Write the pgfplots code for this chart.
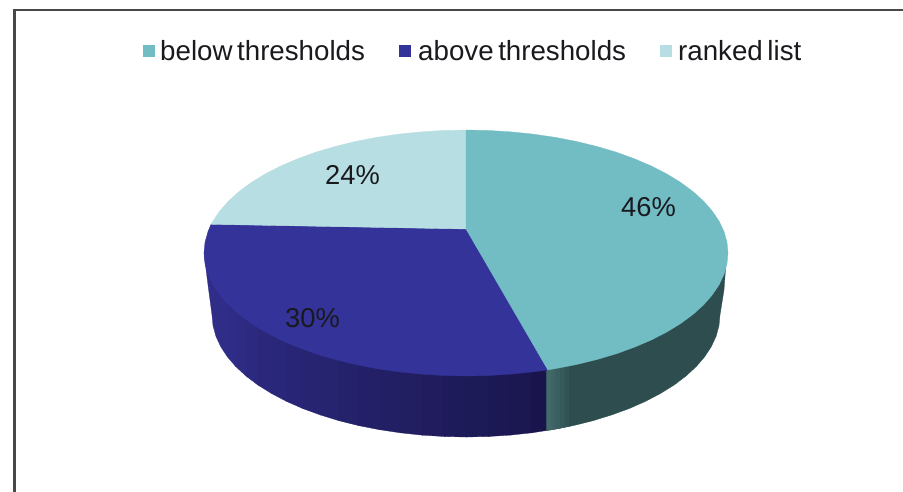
\documentclass[border=0pt]{standalone}
\usepackage{pgfplots}
\pgfplotsset{compat=1.18}
\usepackage{fontspec}
\setmainfont{Liberation Sans}[WordSpace=0.6]
\definecolor{teal1}{RGB}{114,188,196}
\definecolor{teal2}{RGB}{46,77,79}
\definecolor{navy1}{RGB}{51,51,153}
\definecolor{light1}{RGB}{183,222,226}
\definecolor{frame1}{RGB}{72,72,72}
\definecolor{textc}{RGB}{25,25,30}
\newcommand{\face}[2]{\addplot[fill=#1,draw=#1,line width=0.3pt] coordinates {#2} -- cycle;}
\newcommand{\rgbface}[4]{\addplot[fill={rgb,255:red,#1;green,#2;blue,#3},draw={rgb,255:red,#1;green,#2;blue,#3},line width=0.3pt] coordinates {#4} -- cycle;}
\newcommand{\lab}[4]{\node[anchor=base west,inner sep=0pt,text=textc,font=\fontsize{#1}{#1}\selectfont] at (axis cs:#2,#3) {#4};}
\begin{document}
\begin{tikzpicture}
\begin{axis}[
  width=903pt,height=491pt,scale only axis,
  xmin=0,xmax=903,ymin=0,ymax=491,y dir=reverse,
  axis lines=none,ticks=none,clip=true]
% page background
\addplot[fill=white,draw=none] coordinates {(0,0)(903,0)(903,491)(0,491)} -- cycle;
% frame
\addplot[frame1,line width=2.4pt] coordinates {(14.5,495)(14.5,10)(905,10)};
% side: above thresholds, strips from left to right
\rgbface{47}{45}{136}{(204,253)(208,285)(212,315)(213,325.6)(215.9,336.2)(220.7,346.6)(227.3,356.7)(228.3,356.7)(228.3,250)}
\rgbface{46}{44}{134}{(227.3,250)(227.3,356.7)(235.8,366.6)(236.8,366.6)(236.8,250)}
\rgbface{45}{43}{131}{(235.8,250)(235.8,366.6)(246,376)(247,376)(247,250)}
\rgbface{44}{41}{128}{(246,250)(246,376)(257.9,385)(258.9,385)(258.9,250)}
\rgbface{43}{40}{124}{(257.9,250)(257.9,385)(271.4,393.4)(272.4,393.4)(272.4,250)}
\rgbface{41}{39}{121}{(271.4,250)(271.4,393.4)(286.4,401.3)(287.4,401.3)(287.4,250)}
\rgbface{40}{37}{118}{(286.4,250)(286.4,401.3)(302.7,408.5)(303.7,408.5)(303.7,250)}
\rgbface{39}{36}{114}{(302.7,250)(302.7,408.5)(320.3,414.9)(321.3,414.9)(321.3,250)}
\rgbface{38}{35}{111}{(320.3,250)(320.3,414.9)(339,420.7)(340,420.7)(340,250)}
\rgbface{37}{34}{108}{(339,250)(339,420.7)(358.7,425.6)(359.7,425.6)(359.7,250)}
\rgbface{35}{32}{104}{(358.7,250)(358.7,425.6)(379.1,429.6)(380.1,429.6)(380.1,250)}
\rgbface{34}{31}{101}{(379.1,250)(379.1,429.6)(400.3,432.8)(401.3,432.8)(401.3,250)}
\rgbface{33}{30}{98}{(400.3,250)(400.3,432.8)(421.9,435.1)(422.9,435.1)(422.9,250)}
\rgbface{32}{28}{94}{(421.9,250)(421.9,435.1)(443.9,436.5)(444.9,436.5)(444.9,250)}
\rgbface{30}{27}{91}{(443.9,250)(443.9,436.5)(466,437)(467,437)(467,250)}
\rgbface{29}{26}{88}{(466,250)(466,437)(488.1,436.5)(489.1,436.5)(489.1,250)}
\rgbface{28}{24}{84}{(488.1,250)(488.1,436.5)(510.1,435.1)(511.1,435)(511.1,250)}
\rgbface{27}{23}{81}{(510.1,250)(510.1,435.1)(531.7,432.8)(532.7,432.6)(532.7,250)}
\rgbface{25}{21}{76}{(531.7,250)(531.7,432.8)(546.5,430.5)(547,430.4)(547,250)}
% side: below thresholds
\face{teal2}{(546.5,250)(546.5,430.5)(552.9,429.6)(573.3,425.6)(593,420.7)(611.7,414.9)(629.3,408.5)(645.6,401.3)(660.6,393.4)(674.1,385)(686,376)(696.2,366.6)(704.7,356.7)(711.3,346.6)(716.1,336.2)(719,325.6)(720,315)(724,290)(726.5,256)}
\rgbface{50}{84}{85}{(564.5,250)(564.5,427.2)(569,426.4)(569,250)}
\rgbface{54}{89}{91}{(560,250)(560,428.2)(564.5,427.2)(564.5,250)}
\rgbface{58}{95}{96}{(555.5,250)(555.5,429.0)(560,428.2)(560,250)}
\rgbface{62}{100}{101}{(551,250)(551,429.9)(555.5,429.0)(555.5,250)}
\rgbface{66}{106}{106}{(546.5,250)(546.5,430.5)(551,429.9)(551,250)}
% top faces
\face{navy1}{(466,229)(547.8,369.9)(533.8,371.8)(511.5,374.1)(488.8,375.5)(466,376)(443.2,375.5)(420.5,374.1)(398.2,371.8)(376.4,368.6)(355.3,364.5)(335,359.5)(315.7,353.8)(297.6,347.2)(280.7,340)(265.3,332.1)(251.4,323.6)(239.1,314.5)(228.5,305)(219.8,295)(212.9,284.8)(208,274.4)(205,263.7)(204,253)(205,242.3)(208,231.6)(211,224.3)}
\face{light1}{(466,229)(211,224.3)(212.9,221.2)(219.8,211)(228.5,201)(239.1,191.5)(251.4,182.4)(265.3,173.9)(280.7,166)(297.6,158.8)(315.7,152.2)(335,146.5)(355.3,141.5)(376.4,137.4)(398.2,134.2)(420.5,131.9)(443.2,130.5)(466,130)}
\face{teal1}{(466,229)(466,130)(488.8,130.5)(511.5,131.9)(533.8,134.2)(555.6,137.4)(576.7,141.5)(597,146.5)(616.3,152.2)(634.4,158.8)(651.3,166)(666.7,173.9)(680.6,182.4)(692.9,191.5)(703.5,201)(712.2,211)(719.1,221.2)(724,231.6)(727,242.3)(728,253)(727,263.7)(724,274.4)(719.1,284.8)(712.2,295)(703.5,305)(692.9,314.5)(680.6,323.6)(666.7,332.1)(651.3,340)(634.4,347.2)(616.3,353.8)(597,359.5)(576.7,364.5)(555.6,368.6)(547.8,369.9)}
% legend keys
\face{teal1}{(143,45)(154.5,45)(154.5,56.5)(143,56.5)}
\face{navy1}{(399,45)(410.5,45)(410.5,56.5)(399,56.5)}
\face{light1}{(660,45)(671.5,45)(671.5,56.5)(660,56.5)}
% labels
\lab{27.7}{160}{60}{below thresholds}
\lab{27.7}{418}{60}{above thresholds}
\lab{27.7}{678}{60}{ranked list}
\lab{27.3}{325}{184}{24\%}
\lab{27.3}{621}{216}{46\%}
\lab{27.3}{285}{327}{30\%}
\end{axis}
\end{tikzpicture}
\end{document}
